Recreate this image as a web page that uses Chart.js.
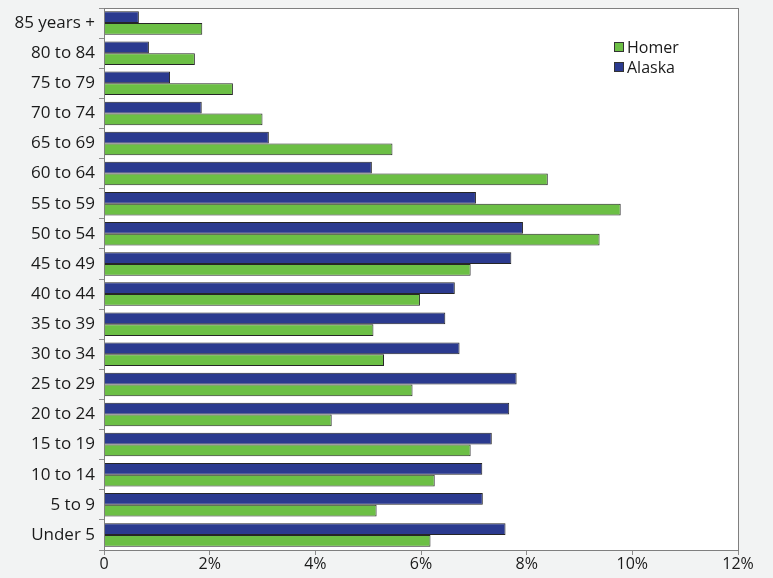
<!DOCTYPE html>
<html>
<head>
<meta charset="utf-8">
<script src="https://cdn.jsdelivr.net/npm/chart.js@4/dist/chart.umd.min.js"></script>
<style>
  html, body { margin: 0; padding: 0; background: #f2f3f3; }
  #wrap { width: 773px; height: 578px; }
</style>
</head>
<body>
<div id="wrap"><canvas id="c" width="773" height="578"></canvas></div>
<script>
const categories = ["85 years +", "80 to 84", "75 to 79", "70 to 74", "65 to 69", "60 to 64",
  "55 to 59", "50 to 54", "45 to 49", "40 to 44", "35 to 39", "30 to 34", "25 to 29",
  "20 to 24", "15 to 19", "10 to 14", "5 to 9", "Under 5"];
const alaskaValues = [0.66, 0.85, 1.25, 1.85, 3.12, 5.07, 7.04, 7.93, 7.71, 6.64, 6.46, 6.73,
  7.81, 7.67, 7.34, 7.16, 7.17, 7.60];
const homerValues = [1.86, 1.72, 2.44, 3.00, 5.46, 8.40, 9.78, 9.38, 6.94, 5.98, 5.10, 5.30,
  5.84, 4.31, 6.94, 6.26, 5.16, 6.18];
const xTicks = [0, 2, 4, 6, 8, 10, 12];
const legendOrder = ["Homer", "Alaska"];

const FONT = "'Open Sans', sans-serif";

const bgPlugin = {
  id: 'bg',
  beforeDraw(chart) {
    const { ctx, chartArea: a } = chart;
    ctx.save();
    ctx.fillStyle = '#f2f3f3';
    ctx.fillRect(0, 0, chart.width, chart.height);
    ctx.fillStyle = '#ffffff';
    ctx.fillRect(a.left, a.top, a.right - a.left, a.bottom - a.top);
    ctx.restore();
  },
  afterDraw(chart) {
    const { ctx, chartArea: a } = chart;
    ctx.save();
    ctx.strokeStyle = '#7f7f7f';
    ctx.lineWidth = 1;
    ctx.strokeRect(Math.round(a.left) + 0.5, Math.round(a.top) + 0.5,
      Math.round(a.right - a.left), Math.round(a.bottom - a.top));
    // legend
    const x0 = 614, y0 = 47, gap = 20;
    ctx.font = "16px " + FONT;
    ctx.textBaseline = 'middle';
    ctx.textAlign = 'left';
    legendOrder.forEach((name, i) => {
      const ds = chart.data.datasets.find(d => d.label === name);
      const y = y0 + i * gap;
      ctx.fillStyle = ds.backgroundColor;
      ctx.fillRect(x0, y - 5, 10, 10);
      ctx.strokeStyle = '#333';
      ctx.strokeRect(x0 + 0.5, y - 4.5, 9, 9);
      ctx.fillStyle = '#1a1a1a';
      ctx.fillText(name, x0 + 13, y + 1);
    });
    ctx.restore();
  }
};

new Chart(document.getElementById('c'), {
  type: 'bar',
  data: {
    labels: categories,
    datasets: [
      { label: 'Alaska', data: alaskaValues, backgroundColor: '#2b3a8f', borderColor: '#262626', borderWidth: 1,
        categoryPercentage: 0.78, barPercentage: 1.0 },
      { label: 'Homer', data: homerValues, backgroundColor: '#6cbf45', borderColor: '#262626', borderWidth: 1,
        categoryPercentage: 0.78, barPercentage: 1.0 }
    ]
  },
  options: {
    indexAxis: 'y',
    responsive: false,
    animation: false,
    devicePixelRatio: 1,
    layout: { padding: { left: 0, right: 35, top: 8, bottom: 0 } },
    plugins: {
      legend: { display: false },
      tooltip: { enabled: false }
    },
    scales: {
      x: {
        min: 0, max: 12,
        afterBuildTicks(scale) { scale.ticks = xTicks.map(v => ({ value: v })); },
        afterFit(scale) { scale.height = 28; scale.paddingRight = 0; scale.paddingLeft = 0; },
        border: { display: false },
        grid: { display: true, drawOnChartArea: false, drawTicks: true, tickLength: 5, color: '#8c8c8c' },
        ticks: {
          color: '#1a1a1a', padding: 1,
          font: { family: FONT, size: 16, lineHeight: 1.1 },
          callback: v => v === 0 ? '0' : v + '%'
        }
      },
      y: {
        afterFit(scale) { scale.width = 104; scale.paddingTop = 0; scale.paddingBottom = 0; },
        border: { display: false },
        grid: { display: true, offset: true, drawOnChartArea: false, drawTicks: true, tickLength: 5, color: '#8c8c8c' },
        ticks: {
          color: '#1a1a1a', padding: 4,
          font: { family: FONT, size: 17, lineHeight: 1.1 }
        }
      }
    }
  },
  plugins: [bgPlugin]
});
</script>
</body>
</html>
